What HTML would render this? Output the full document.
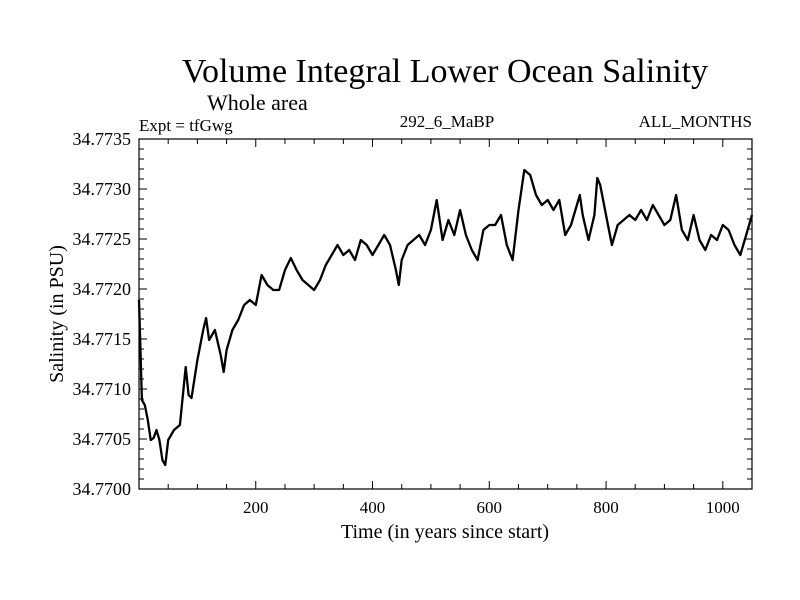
<!DOCTYPE html>
<html><head><meta charset="utf-8"><style>body{margin:0;background:#fff}svg{display:block;font-family:"Liberation Serif",serif}</style></head>
<body>
<svg id="chart" width="800" height="600">
<text x="445" y="82" font-size="34" text-anchor="middle">Volume Integral Lower Ocean Salinity</text>
<text x="207" y="110" font-size="22">Whole area</text>
<text x="139" y="131" font-size="17">Expt = tfGwg</text>
<text x="447" y="127" font-size="17" text-anchor="middle">292_6_MaBP</text>
<text x="752" y="127" font-size="17" text-anchor="end">ALL_MONTHS</text>
<text x="445" y="538" font-size="20" text-anchor="middle">Time (in years since start)</text>
<text x="0" y="0" font-size="20" text-anchor="middle" transform="translate(63,314) rotate(-90)">Salinity (in PSU)</text>
<g id="axes"></g>
<g id="series"></g>
</svg>
<script>
const years=[0,5,10,15,20,25,30,35,40,45,50,60,70,80,85,90,100,110,115,120,130,140,145,150,160,170,180,190,200,210,220,230,240,250,260,270,280,290,300,310,320,330,340,350,360,370,380,390,400,410,420,430,440,445,450,460,470,480,490,500,510,520,530,540,550,560,570,580,590,600,610,620,630,640,650,660,670,680,690,700,710,720,730,740,750,755,760,770,780,785,790,800,810,820,830,840,850,860,870,880,890,900,910,920,930,940,950,960,970,980,990,1000,1010,1020,1030,1040,1050];
const salinity=[34.77189,34.77089,34.77084,34.77069,34.77049,34.77051,34.77059,34.77049,34.77029,34.77024,34.77049,34.77059,34.77064,34.77122,34.77094,34.77091,34.77129,34.77159,34.77171,34.77149,34.77159,34.77134,34.77117,34.77139,34.77159,34.77169,34.77184,34.77189,34.77184,34.77214,34.77204,34.77199,34.77199,34.77219,34.77231,34.77219,34.77209,34.77204,34.77199,34.77209,34.77224,34.77234,34.77244,34.77234,34.77239,34.77229,34.77249,34.77244,34.77234,34.77244,34.77254,34.77244,34.77219,34.77204,34.77229,34.77244,34.77249,34.77254,34.77244,34.77259,34.77289,34.77249,34.77269,34.77254,34.77279,34.77254,34.77239,34.77229,34.77259,34.77264,34.77264,34.77274,34.77244,34.77229,34.77279,34.77319,34.77314,34.77294,34.77284,34.77289,34.77279,34.77289,34.77254,34.77264,34.77284,34.77294,34.77274,34.77249,34.77274,34.77311,34.77304,34.77274,34.77244,34.77264,34.77269,34.77274,34.77269,34.77279,34.77269,34.77284,34.77274,34.77264,34.77269,34.77294,34.77259,34.77249,34.77274,34.77249,34.77239,34.77254,34.77249,34.77264,34.77259,34.77244,34.77234,34.77254,34.77274];
const xTickLabels=[200,400,600,800,1000];
const yTickLabels=["34.7700","34.7705","34.7710","34.7715","34.7720","34.7725","34.7730","34.7735"];
const L=139,R=752,T=139,B=489,XMAX=1050,YMIN=34.77,YMAX=34.7735;
const sx=v=>L+(v/XMAX)*(R-L);
const sy=v=>B-(v-YMIN)/(YMAX-YMIN)*(B-T);
const NS="http://www.w3.org/2000/svg";
const ax=document.getElementById('axes');
function mk(tag,attrs,parent){const e=document.createElementNS(NS,tag);for(const k in attrs)e.setAttribute(k,attrs[k]);parent.appendChild(e);return e;}
const frame=mk('rect',{x:L,y:T,width:R-L,height:B-T,fill:'none',stroke:'#000','stroke-width':1.2},ax);


for(let yr=50;yr<XMAX;yr+=50){const x=sx(yr);const len=(yr%200===0)?8:5;
 const t1=mk('line',{x1:x,y1:B,x2:x,y2:B-len,stroke:'#000'},ax);
 
 
 const t2=mk('line',{x1:x,y1:T,x2:x,y2:T+len,stroke:'#000'},ax);
 
 }
xTickLabels.forEach(v=>{const t=mk('text',{x:sx(v),y:513,'font-size':17,'text-anchor':'middle'},ax);t.textContent=v;
 
 });
for(let i=1;i<35;i++){const v=YMIN+i*0.0001;const y=sy(v);const len=(i%5===0)?8:5;
 const a=mk('line',{x1:L,y1:y,x2:L+len,y2:y,stroke:'#000'},ax);
 
 
 const b=mk('line',{x1:R,y1:y,x2:R-len,y2:y,stroke:'#000'},ax);
 
 }
yTickLabels.forEach(s=>{const t=mk('text',{x:131,y:sy(parseFloat(s))+6,'font-size':18,'text-anchor':'end'},ax);t.textContent=s;
 
 });
const d=years.map((yr,i)=>(i?'L':'M')+sx(yr).toFixed(1)+','+sy(salinity[i]).toFixed(1)).join(' ');
const p=mk('path',{d:d,fill:'none',stroke:'#000','stroke-width':2.3,'stroke-linejoin':'round'},document.getElementById('series'));


</script>
</body></html>
